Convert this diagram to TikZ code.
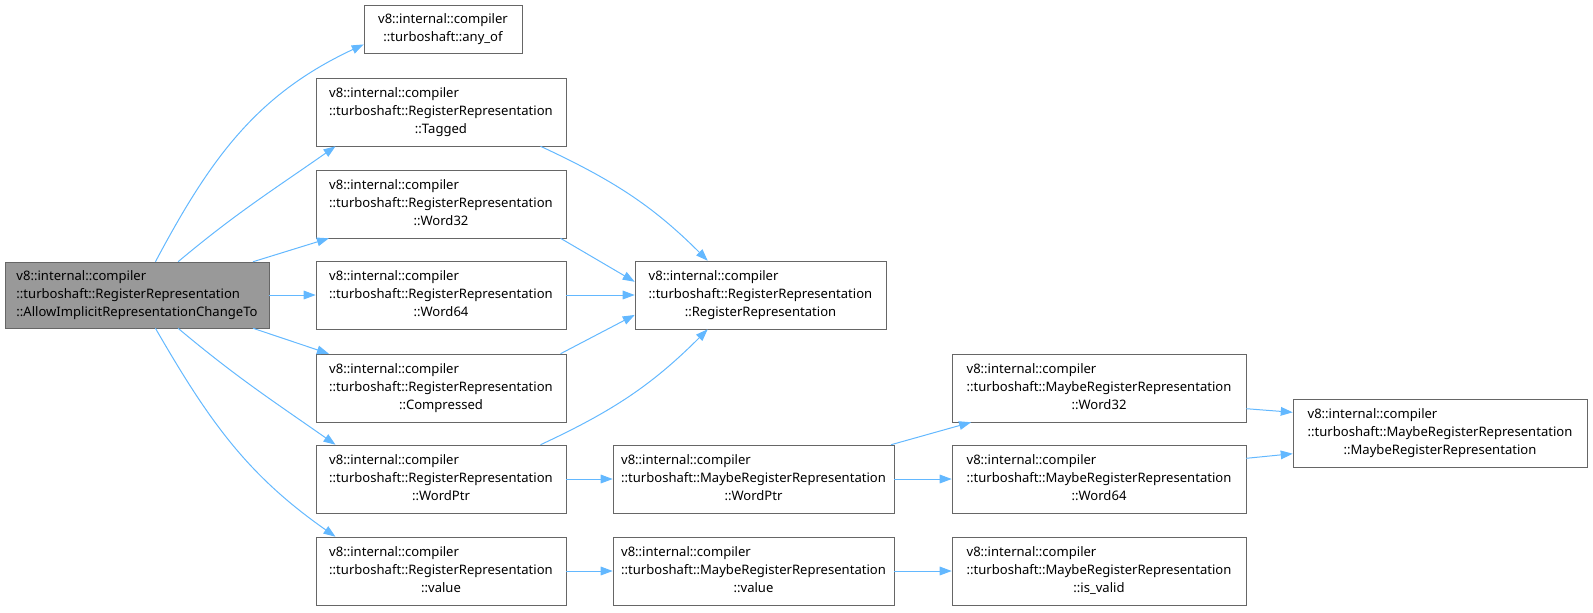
\documentclass[tikz,border=0pt]{standalone}
\usepackage{fontspec}
\setmainfont{Noto Sans}
\usetikzlibrary{arrows.meta}
\definecolor{edgeblue}{HTML}{63B8FF}
\definecolor{boxgray}{HTML}{666666}
\definecolor{curfill}{HTML}{999999}
\newcommand{\vname}[2]{\begin{tabular}{@{}c@{}}\multicolumn{1}{@{}l@{}}{v8::internal::compiler}\\#1\\#2\end{tabular}}
\tikzset{
  cls/.style={draw=boxgray,fill=white,inner sep=0pt,minimum height=68*0.75pt,
    font=\fontsize{9.8}{13.4}\selectfont},
  edge/.style={draw=edgeblue,line width=0.75pt,-{Triangle[length=9pt,width=6.5pt]}}
}
\begin{document}
\begin{tikzpicture}[x=0.75pt,y=-0.75pt]
\useasboundingbox (0,0) rectangle (1593,612);
% callee nodes
\node[cls,fill=curfill,minimum width=264*0.75pt,minimum height=66*0.75pt] (main) at (137,295)
  {\begin{tabular}{@{}l@{}}v8::internal::compiler\\::turboshaft::RegisterRepresentation\\::AllowImplicitRepresentationChangeTo\end{tabular}};
\node[cls,minimum width=158*0.75pt,minimum height=48*0.75pt] (anyof) at (443,29)
  {\begin{tabular}{@{}c@{}}v8::internal::compiler\\::turboshaft::any\_of\end{tabular}};
\node[cls,minimum width=250*0.75pt] (tagged) at (441,112) {\vname{::turboshaft::RegisterRepresentation}{::Tagged}};
\node[cls,minimum width=250*0.75pt] (w32) at (441,204) {\vname{::turboshaft::RegisterRepresentation}{::Word32}};
\node[cls,minimum width=250*0.75pt] (w64) at (441,295) {\vname{::turboshaft::RegisterRepresentation}{::Word64}};
\node[cls,minimum width=250*0.75pt] (comp) at (441,388) {\vname{::turboshaft::RegisterRepresentation}{::Compressed}};
\node[cls,minimum width=250*0.75pt] (wptr) at (441,479) {\vname{::turboshaft::RegisterRepresentation}{::WordPtr}};
\node[cls,minimum width=250*0.75pt] (val) at (441,571) {\vname{::turboshaft::RegisterRepresentation}{::value}};
\node[cls,minimum width=251*0.75pt] (rr) at (760.5,295) {\vname{::turboshaft::RegisterRepresentation}{::RegisterRepresentation}};
\node[cls,minimum width=281*0.75pt] (mwptr) at (753.5,479) {\vname{::turboshaft::MaybeRegisterRepresentation}{::WordPtr}};
\node[cls,minimum width=281*0.75pt] (mval) at (753.5,571) {\vname{::turboshaft::MaybeRegisterRepresentation}{::value}};
\node[cls,minimum width=294*0.75pt] (mw32) at (1099,388) {\vname{::turboshaft::MaybeRegisterRepresentation}{::Word32}};
\node[cls,minimum width=294*0.75pt] (mw64) at (1099,479) {\vname{::turboshaft::MaybeRegisterRepresentation}{::Word64}};
\node[cls,minimum width=294*0.75pt] (misv) at (1099,571) {\vname{::turboshaft::MaybeRegisterRepresentation}{::is\_valid}};
\node[cls,minimum width=294*0.75pt] (mctor) at (1440,433) {\vname{::turboshaft::MaybeRegisterRepresentation}{::MaybeRegisterRepresentation}};
% calls
\draw[edge] (main.61) to[out=62,in=205] (anyof.191);
\draw[edge] (main.39) to[out=40,in=215] (tagged.198);
\draw[edge] (main.16) -- (w32.197);
\draw[edge] (main.east) -- (w64.west);
\draw[edge] (main.-16) -- (comp.163);
\draw[edge] (main.-39) to[out=-40,in=145] (wptr.162);
\draw[edge] (main.-61) to[out=-60,in=145] (val.162);
\draw[edge] (tagged.-19) to[out=-25,in=135] (rr.147);
\draw[edge] (w32.-16) -- (rr.174);
\draw[edge] (w64.east) -- (rr.west);
\draw[edge] (comp.16) -- (rr.189);
\draw[edge] (wptr.19) to[out=25,in=-135] (rr.213);
\draw[edge] (wptr.east) -- (mwptr.west);
\draw[edge] (val.east) -- (mval.west);
\draw[edge] (mwptr.14) -- (mw32.195);
\draw[edge] (mwptr.east) -- (mw64.west);
\draw[edge] (mval.east) -- (misv.west);
\draw[edge] (mw32.-8) -- (mctor.172);
\draw[edge] (mw64.8) -- (mctor.188);
\end{tikzpicture}
\end{document}
